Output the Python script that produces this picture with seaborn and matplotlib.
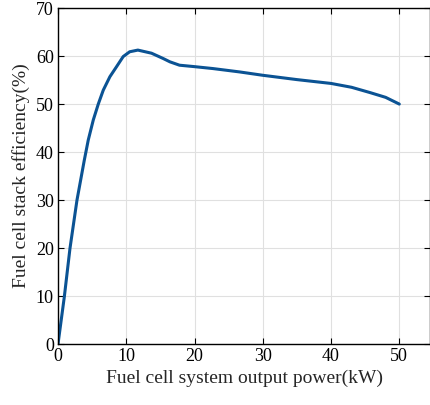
import matplotlib
matplotlib.use("Agg")
import matplotlib.pyplot as plt
import seaborn as sns
import pandas as pd

power_kw = [0, 0.93, 1.75, 2.78, 3.85, 4.43, 5.17, 5.9, 6.63, 7.6, 8.58, 9.55, 10.5, 11.7,
            13.7, 15.4, 16.4, 17.8, 20.0, 22.7, 26.6, 30.0, 35.0, 40.0, 43.0, 45.7, 48.0, 50.0]
efficiency = [0, 9.9, 19.9, 30.0, 38.3, 42.5, 46.7, 50.0, 52.9, 55.7, 57.8, 59.9, 60.9, 61.25,
              60.6, 59.5, 58.8, 58.1, 57.8, 57.4, 56.7, 56.0, 55.1, 54.3, 53.5, 52.4, 51.4, 50.0]
x_ticks = [0, 10, 20, 30, 40, 50]
y_ticks = [0, 10, 20, 30, 40, 50, 60, 70]

sns.set_theme(style="white")
plt.rcParams['font.family'] = ['Liberation Serif', 'DejaVu Serif']

df = pd.DataFrame({"x": power_kw, "y": efficiency})

fig = plt.figure(figsize=(4.31, 4.05), dpi=100)
ax = fig.add_axes([0.1346, 0.1506, 0.8631, 0.8294])
sns.lineplot(data=df, x="x", y="y", ax=ax, color="#0B5394", linewidth=2.2, sort=False)
ax.lines[0].set_solid_joinstyle("round")

ax.set_xlim(0, 54.5)
ax.set_ylim(0, 70)
ax.set_xticks(x_ticks)
ax.set_yticks(y_ticks)
ax.grid(True, color="#E0E0E0", linewidth=0.8)
ax.set_axisbelow(True)
for s in ax.spines.values():
    s.set_color("black")
    s.set_linewidth(1.0)
    s.set_visible(True)
ax.tick_params(direction="in", length=4, width=0.8, colors="black", labelsize=13,
               top=True, right=True, bottom=True, left=True, pad=3)
ax.set_xlabel("Fuel cell system output power(kW)", fontsize=14, labelpad=3)
ax.set_ylabel("Fuel cell stack efficiency(%)", fontsize=14, labelpad=4)

fig.savefig("out.png", dpi=100)
